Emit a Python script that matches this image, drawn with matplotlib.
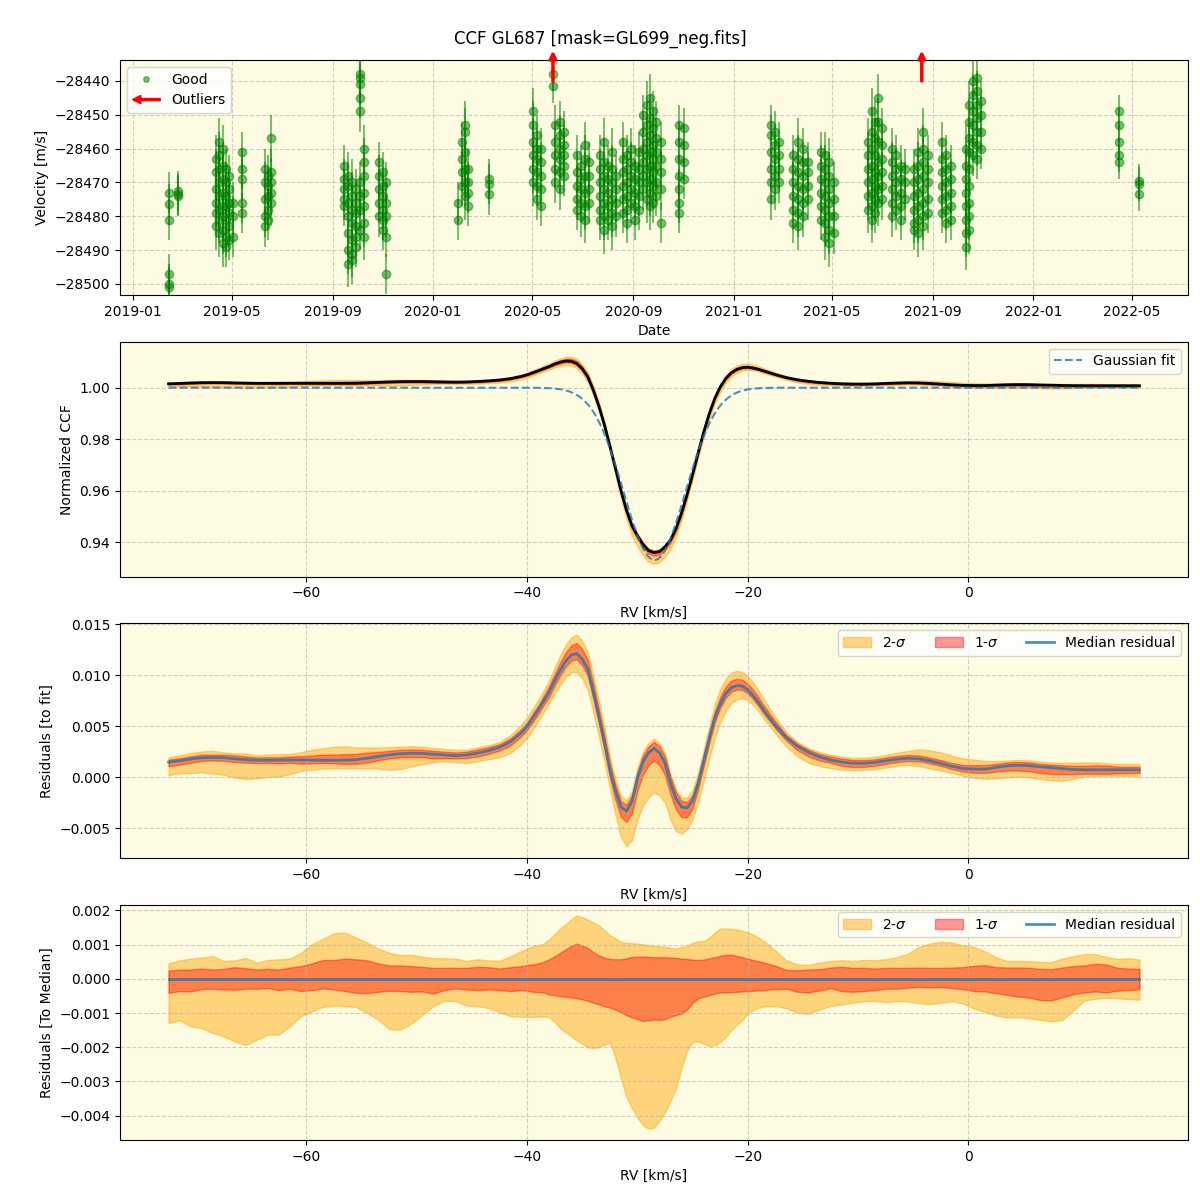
import numpy as np
import pandas as pd
import matplotlib
matplotlib.use("Agg")
import matplotlib.pyplot as plt
import matplotlib.patches as mpatches
import matplotlib.dates as mdates
from matplotlib.lines import Line2D
from matplotlib.legend_handler import HandlerPatch

# ---- velocity time series (grouped by night) ----
night_dates = [
    "2019-02-13", "2019-02-24",
    "2019-04-12", "2019-04-16", "2019-04-20", "2019-04-24", "2019-04-28", "2019-05-03",
    "2019-05-13", "2019-06-10", "2019-06-14", "2019-06-18",
    "2019-09-14", "2019-09-19", "2019-09-24", "2019-09-29", "2019-10-04", "2019-10-09",
    "2019-10-27", "2019-11-01", "2019-11-05",
    "2020-01-31", "2020-02-05", "2020-02-09", "2020-02-13", "2020-03-09",
    "2020-05-02", "2020-05-06", "2020-05-11", "2020-05-26", "2020-05-29", "2020-06-03",
    "2020-06-08", "2020-06-24", "2020-06-29", "2020-07-04", "2020-07-09",
    "2020-07-22", "2020-07-27", "2020-08-01", "2020-08-06", "2020-08-11",
    "2020-08-19", "2020-08-24", "2020-08-29", "2020-09-03", "2020-09-08",
    "2020-09-13", "2020-09-17", "2020-09-21", "2020-09-25", "2020-09-29", "2020-10-04",
    "2020-10-27", "2020-11-02",
    "2021-02-15", "2021-02-20", "2021-02-25",
    "2021-03-14", "2021-03-20", "2021-03-26", "2021-04-01",
    "2021-04-17", "2021-04-22", "2021-04-27", "2021-05-03",
    "2021-06-14", "2021-06-18", "2021-06-22", "2021-06-26", "2021-07-01",
    "2021-07-13", "2021-07-18", "2021-07-24", "2021-07-28",
    "2021-08-09", "2021-08-14", "2021-08-19", "2021-08-25",
    "2021-09-12", "2021-09-17", "2021-09-22",
    "2021-10-11", "2021-10-15", "2021-10-19", "2021-10-24", "2021-10-29",
    "2022-04-15", "2022-05-10",
]
night_rvs = [
    [-28473.0, -28476.5, -28481.0, -28497.0, -28500.0, -28501.0],
    [-28472.5, -28473.5, -28474.0],
    [-28463, -28467, -28472, -28476, -28479, -28483],
    [-28458, -28462, -28466, -28470, -28474, -28478, -28481, -28485],
    [-28460, -28465, -28469, -28473, -28477, -28480, -28484, -28488],
    [-28466, -28470, -28474, -28477, -28481, -28486, -28489],
    [-28468, -28472, -28476, -28479, -28483, -28487],
    [-28476, -28480, -28486],
    [-28461, -28466, -28469, -28476, -28479],
    [-28466, -28470, -28475, -28480, -28483],
    [-28468, -28471, -28474, -28478, -28481],
    [-28457, -28467, -28470, -28473, -28476],
    [-28465, -28469, -28472, -28475, -28477],
    [-28468, -28471, -28476, -28480, -28485, -28490, -28494],
    [-28470, -28474, -28478, -28482, -28487, -28491, -28493],
    [-28472, -28476, -28479, -28483, -28486, -28489],
    [-28438, -28439, -28441, -28445, -28449, -28470, -28474, -28478, -28484],
    [-28460, -28464, -28468, -28473, -28477, -28482, -28486],
    [-28464, -28468, -28472, -28476, -28480],
    [-28467, -28471, -28474, -28478, -28481, -28484],
    [-28470, -28476, -28480, -28486, -28497],
    [-28476, -28481],
    [-28458, -28463, -28467, -28471],
    [-28453, -28455, -28461, -28466, -28470, -28474],
    [-28466, -28470, -28473, -28477],
    [-28469, -28470.5, -28473.5],
    [-28449, -28453, -28458, -28462, -28466, -28470],
    [-28456, -28460, -28463, -28467, -28471, -28475],
    [-28460, -28464, -28468, -28472, -28477],
    [-28438, -28441.5],
    [-28453, -28458, -28462, -28466, -28470],
    [-28452, -28456, -28460, -28463, -28467, -28472],
    [-28455, -28459, -28462, -28465, -28468],
    [-28462, -28467, -28471, -28475, -28478],
    [-28465, -28469, -28472, -28476, -28480],
    [-28459, -28463, -28468, -28473, -28477, -28481],
    [-28464, -28468, -28472, -28476],
    [-28462, -28466, -28470, -28474, -28478, -28481],
    [-28458, -28464, -28468, -28472, -28476, -28480, -28484],
    [-28465, -28469, -28473, -28477, -28481],
    [-28461, -28466, -28470, -28475, -28479, -28483],
    [-28468, -28472, -28476, -28480],
    [-28458, -28463, -28467, -28471, -28475, -28479],
    [-28462, -28466, -28470, -28474, -28478, -28482],
    [-28460, -28464, -28468, -28472, -28476],
    [-28465, -28469, -28473, -28477, -28481],
    [-28461, -28466, -28470, -28474, -28478],
    [-28450, -28455, -28460, -28464, -28468, -28472],
    [-28447, -28453, -28458, -28462, -28466, -28470, -28475],
    [-28445, -28451, -28456, -28461, -28465, -28469, -28473, -28477],
    [-28449, -28454, -28459, -28463, -28467, -28471, -28476],
    [-28452, -28457, -28461, -28465, -28470, -28474],
    [-28458, -28463, -28467, -28472, -28482],
    [-28453, -28458, -28463, -28468, -28472, -28476, -28479],
    [-28454, -28459, -28464, -28469],
    [-28453, -28456, -28461, -28466, -28470, -28475],
    [-28455, -28459, -28463, -28468, -28472],
    [-28458, -28462, -28466, -28470],
    [-28462, -28466, -28470, -28474, -28478, -28482],
    [-28458, -28463, -28467, -28471, -28475, -28479, -28483],
    [-28460, -28464, -28468, -28472, -28476, -28480],
    [-28464, -28467, -28471, -28475],
    [-28461, -28465, -28469, -28473, -28477, -28481],
    [-28462, -28466, -28470, -28474, -28478, -28482, -28486],
    [-28464, -28468, -28472, -28476, -28480, -28484, -28488],
    [-28470, -28475, -28480, -28485],
    [-28458, -28462, -28466, -28470, -28474, -28478],
    [-28449, -28455, -28460, -28465, -28469, -28473, -28477, -28481],
    [-28452, -28457, -28462, -28467, -28471, -28475, -28479],
    [-28445, -28452, -28458, -28464, -28468, -28472, -28476],
    [-28454, -28459, -28463, -28467, -28471, -28475],
    [-28460, -28464, -28468, -28472, -28476, -28480],
    [-28462, -28466, -28470, -28474, -28478],
    [-28465, -28469, -28473, -28477, -28481],
    [-28466, -28470, -28475],
    [-28466, -28470, -28474, -28478, -28482, -28484],
    [-28461, -28465, -28469, -28473, -28477, -28481, -28485],
    [-28455, -28460, -28464, -28468, -28472, -28476, -28480, -28483],
    [-28462, -28466, -28470, -28475, -28479],
    [-28458, -28463, -28467, -28471, -28475, -28479],
    [-28462, -28466, -28470, -28474, -28478, -28482],
    [-28465, -28469, -28473, -28477, -28481],
    [-28460, -28465, -28469, -28473, -28477, -28481, -28485, -28489],
    [-28447, -28452, -28457, -28461, -28466, -28471, -28476, -28480, -28484],
    [-28440, -28444, -28449, -28453, -28458, -28462],
    [-28439, -28443, -28447, -28451, -28455, -28459, -28463],
    [-28446, -28450, -28455, -28460],
    [-28449, -28453, -28458, -28462, -28464],
    [-28469.5, -28470.5, -28473.5],
]
night_errs = [
    6, 6, 7, 7, 7, 6, 6, 6, 6, 6, 6, 7,
    6, 7, 7, 6, 6, 7, 6, 6, 6,
    6, 6, 7, 6, 6,
    7, 6, 6, 5, 6, 6, 6, 6, 6, 7, 6,
    6, 7, 6, 7, 6, 6, 6, 6, 6, 6,
    6, 7, 7, 6, 6, 6, 6, 6,
    6, 6, 6, 6, 7, 6, 6, 6, 7, 7, 6,
    7, 7, 6, 7, 6, 6, 6, 6, 6,
    6, 7, 7, 6, 6, 6, 6,
    7, 7, 6, 6, 6, 5, 5,
]
outlier_dates = ["2020-05-26", "2021-08-18"]

# ---- CCF profile ----
# 1 km/s steps in the wings, 0.5 km/s across the line
rv = np.concatenate([np.arange(-72.5, -41.0, 1.0),
                     np.arange(-40.5, -17.0, 0.5),
                     np.arange(-16.5, 16.0, 1.0)])
gauss_amp, gauss_mu, gauss_sig = 0.0668, -28.45, 2.8

# median residual to the fit (x 1e-3)
med_res = [
    1.50, 1.62, 1.80, 1.92, 1.95, 1.93, 1.82, 1.74, 1.68, 1.68,
    1.69, 1.71, 1.71, 1.70, 1.68, 1.68, 1.69, 1.73, 1.88, 2.05,
    2.21, 2.32, 2.36, 2.35, 2.28, 2.20, 2.13, 2.20, 2.38, 2.62,
    2.95, 3.50,
    4.40, 5.00, 5.80, 6.60, 7.50, 8.40, 9.50, 10.50, 11.40, 12.00,
    12.15, 11.60, 10.60, 8.40, 6.00, 3.50, 0.80, -1.30, -2.90, -3.30,
    -2.40, -0.10, 1.50, 2.40, 2.85, 2.40, 1.40, -0.60, -2.10, -2.90,
    -3.00, -2.30, -0.60, 1.60, 3.80, 5.80, 7.20, 8.20, 8.80, 9.00,
    8.95, 8.60, 8.00, 7.30, 6.50, 5.80, 5.10,
    3.90, 3.05, 2.45, 2.00, 1.70, 1.50, 1.39, 1.38, 1.46, 1.63,
    1.78, 1.87, 1.82, 1.62, 1.37, 1.08, 0.88, 0.81, 0.81, 0.98,
    1.13, 1.19, 1.15, 1.04, 0.96, 0.85, 0.77, 0.74, 0.74, 0.74,
    0.74, 0.74, 0.74,
]
# spread around the median (x 1e-3)
hi2 = [
    0.45, 0.54, 0.59, 0.62, 0.66, 0.52, 0.54, 0.61, 0.47, 0.55,
    0.57, 0.59, 0.76, 1.01, 1.17, 1.33, 1.35, 1.20, 1.06, 0.88,
    0.76, 0.69, 0.70, 0.65, 0.60, 0.60, 0.59, 0.52, 0.57, 0.54,
    0.52, 0.66,
    0.81, 0.88, 0.96, 0.98, 1.03, 1.15, 1.31, 1.47, 1.60, 1.74,
    1.85, 1.80, 1.73, 1.65, 1.56, 1.42, 1.28, 1.18, 1.08, 1.05,
    1.04, 1.03, 1.01, 0.98, 0.96, 0.95, 0.94, 0.90, 0.89, 0.93,
    0.97, 1.05, 1.10, 1.10, 1.20, 1.35, 1.47, 1.47, 1.46, 1.44,
    1.40, 1.35, 1.29, 1.20, 1.10, 0.96, 0.82,
    0.54, 0.42, 0.41, 0.47, 0.52, 0.54, 0.52, 0.55, 0.54, 0.57,
    0.63, 0.73, 0.93, 1.03, 1.08, 1.06, 0.98, 0.93, 0.80, 0.63,
    0.52, 0.52, 0.52, 0.49, 0.49, 0.59, 0.66, 0.72, 0.72, 0.64,
    0.58, 0.60, 0.56,
]
hi1 = [
    0.24, 0.27, 0.27, 0.30, 0.27, 0.29, 0.34, 0.31, 0.27, 0.29,
    0.27, 0.33, 0.37, 0.45, 0.55, 0.55, 0.59, 0.57, 0.54, 0.45,
    0.39, 0.39, 0.37, 0.35, 0.32, 0.32, 0.32, 0.32, 0.35, 0.34,
    0.30, 0.34,
    0.37, 0.40, 0.42, 0.45, 0.50, 0.57, 0.66, 0.76, 0.86, 0.96,
    1.03, 0.97, 0.90, 0.78, 0.68, 0.62, 0.58, 0.57, 0.57, 0.60,
    0.64, 0.645, 0.65, 0.64, 0.63, 0.63, 0.63, 0.62, 0.61, 0.59,
    0.58, 0.56, 0.55, 0.56, 0.60, 0.63, 0.67, 0.70, 0.70, 0.67,
    0.63, 0.59, 0.55, 0.51, 0.47, 0.43, 0.38,
    0.26, 0.25, 0.27, 0.28, 0.33, 0.35, 0.32, 0.32, 0.30, 0.32,
    0.32, 0.32, 0.33, 0.32, 0.32, 0.33, 0.34, 0.38, 0.40, 0.34,
    0.33, 0.33, 0.32, 0.29, 0.28, 0.33, 0.37, 0.39, 0.44, 0.42,
    0.32, 0.30, 0.29,
]
lo1 = [
    -0.41, -0.36, -0.37, -0.30, -0.29, -0.31, -0.32, -0.29, -0.29, -0.27,
    -0.33, -0.29, -0.36, -0.33, -0.28, -0.31, -0.36, -0.41, -0.42, -0.38,
    -0.35, -0.36, -0.38, -0.37, -0.43, -0.33, -0.28, -0.31, -0.33, -0.31,
    -0.33, -0.36,
    -0.33, -0.35, -0.38, -0.39, -0.40, -0.46, -0.48, -0.51, -0.52, -0.54,
    -0.57, -0.60, -0.64, -0.70, -0.74, -0.80, -0.84, -0.90, -0.98, -1.06,
    -1.13, -1.18, -1.23, -1.21, -1.19, -1.20, -1.18, -1.10, -1.06, -1.02,
    -0.90, -0.70, -0.57, -0.52, -0.48, -0.43, -0.40, -0.40, -0.39, -0.38,
    -0.37, -0.36, -0.35, -0.34, -0.33, -0.31, -0.30,
    -0.29, -0.38, -0.40, -0.34, -0.27, -0.36, -0.38, -0.36, -0.33, -0.29,
    -0.29, -0.26, -0.24, -0.25, -0.24, -0.27, -0.30, -0.36, -0.37, -0.42,
    -0.47, -0.52, -0.55, -0.62, -0.63, -0.54, -0.45, -0.40, -0.37, -0.40,
    -0.35, -0.33, -0.31,
]
lo2 = [
    -1.29, -1.21, -1.39, -1.44, -1.58, -1.68, -1.83, -1.93, -1.78, -1.63,
    -1.63, -1.39, -1.09, -0.95, -0.82, -0.78, -0.80, -0.82, -1.00, -1.19,
    -1.47, -1.49, -1.31, -1.05, -0.80, -0.64, -0.65, -0.78, -0.80, -0.85,
    -0.98, -1.09,
    -1.11, -1.11, -1.11, -1.11, -1.10, -1.12, -1.26, -1.44, -1.56, -1.68,
    -1.80, -1.90, -2.00, -2.02, -2.00, -1.93, -1.85, -2.30, -2.90, -3.45,
    -3.78, -4.05, -4.28, -4.38, -4.35, -4.15, -3.90, -3.55, -3.20, -2.60,
    -2.10, -1.85, -1.83, -1.90, -1.97, -1.95, -1.85, -1.70, -1.50, -1.35,
    -1.20, -1.02, -0.91, -0.84, -0.81, -0.80, -0.80,
    -0.86, -0.99, -1.02, -0.90, -0.79, -0.75, -0.70, -0.65, -0.65, -0.68,
    -0.65, -0.66, -0.71, -0.74, -0.70, -0.66, -0.72, -0.87, -0.97, -1.07,
    -1.13, -1.12, -1.15, -1.20, -1.24, -1.20, -0.93, -0.64, -0.58, -0.56,
    -0.57, -0.59, -0.61,
]

bg = "#fdfbe2"

# flatten the nightly lists
dates, vels, errs = [], [], []
for d, vs, e in zip(night_dates, night_rvs, night_errs):
    for v in vs:
        dates.append(pd.Timestamp(d))
        vels.append(v)
        errs.append(e)
dates = np.array(dates, dtype="datetime64[ns]")

med = np.array(med_res) * 1e-3
h2, h1 = np.array(hi2) * 1e-3, np.array(hi1) * 1e-3
l1, l2 = np.array(lo1) * 1e-3, np.array(lo2) * 1e-3


def gauss_model(x):
    return 1 - gauss_amp * np.exp(-0.5 * ((x - gauss_mu) / gauss_sig) ** 2)


ccf = gauss_model(rv) + med
rv_fine = np.linspace(rv[0], rv[-1], 600)


def make_arrow(legend, orig_handle, xdescent, ydescent, width, height, fontsize):
    return mpatches.FancyArrow(width, 0.5 * height, -width, 0, width=1.5,
                               length_includes_head=True, head_width=6,
                               head_length=6, color="red")


fig, axes = plt.subplots(4, 1, figsize=(12, 12), dpi=100)
fig.subplots_adjust(left=0.1, right=0.99, top=0.95, bottom=0.05, hspace=0.2)
fig.suptitle("CCF GL687 [mask=GL699_neg.fits]", fontsize=12, y=0.975)

# panel 1 : velocities
ax = axes[0]
ax.errorbar(dates, vels, yerr=errs, fmt="o", color="green", ms=6,
            elinewidth=1.5, alpha=0.5)
for d in outlier_dates:
    ax.annotate("", xy=(pd.Timestamp(d), -28431), xytext=(pd.Timestamp(d), -28440),
                arrowprops=dict(arrowstyle="-|>", color="red", lw=2.5,
                                mutation_scale=10, shrinkA=0, shrinkB=0),
                annotation_clip=False)
ax.set_ylim(-28503.2, -28433.8)
ax.xaxis.set_major_locator(mdates.MonthLocator(bymonth=[1, 5, 9]))
ax.xaxis.set_major_formatter(mdates.DateFormatter("%Y-%m"))
ax.set_xlabel("Date")
ax.set_ylabel("Velocity [m/s]")
good_h = Line2D([], [], marker="o", ls="", color="green", alpha=0.5, ms=4)
out_h = mpatches.FancyArrow(0, 0, 1, 0, color="red")
ax.legend([good_h, out_h], ["Good", "Outliers"], loc="upper left",
          handler_map={mpatches.FancyArrow: HandlerPatch(patch_func=make_arrow)})

# panel 2 : CCF
ax = axes[1]
ax.fill_between(rv, ccf + l2, ccf + h2, color="orange", alpha=0.45)
ax.fill_between(rv, ccf + l1, ccf + h1, color="red", alpha=0.4)
ax.plot(rv, ccf, color="black", lw=2)
ax.plot(rv_fine, gauss_model(rv_fine), "--", color="C0", alpha=0.8, lw=1.5,
        label="Gaussian fit")
ax.set_ylim(0.9268, 1.0178)
ax.set_xlabel("RV [km/s]")
ax.set_ylabel("Normalized CCF")
ax.legend(loc="upper right")

# panel 3 : residuals to fit
ax = axes[2]
ax.fill_between(rv, med + l2, med + h2, color="orange", alpha=0.45, label="2-$\\sigma$")
ax.fill_between(rv, med + l1, med + h1, color="red", alpha=0.4, label="1-$\\sigma$")
ax.plot(rv, med, color="C0", alpha=0.8, lw=2, label="Median residual")
ax.set_ylim(-0.00794, 0.0151)
ax.set_xlabel("RV [km/s]")
ax.set_ylabel("Residuals [to fit]")
ax.legend(loc="upper right", ncol=3)

# panel 4 : residuals to median
ax = axes[3]
ax.fill_between(rv, l2, h2, color="orange", alpha=0.45, label="2-$\\sigma$")
ax.fill_between(rv, l1, h1, color="red", alpha=0.4, label="1-$\\sigma$")
ax.plot(rv, np.zeros_like(rv), color="C0", alpha=0.8, lw=2, label="Median residual")
ax.set_ylim(-0.00471, 0.00215)
ax.set_xlabel("RV [km/s]")
ax.set_ylabel("Residuals [To Median]")
ax.legend(loc="upper right", ncol=3)

for ax in axes:
    ax.set_facecolor(bg)
    ax.grid(True, ls="--", alpha=0.6)

plt.savefig("out.png")
